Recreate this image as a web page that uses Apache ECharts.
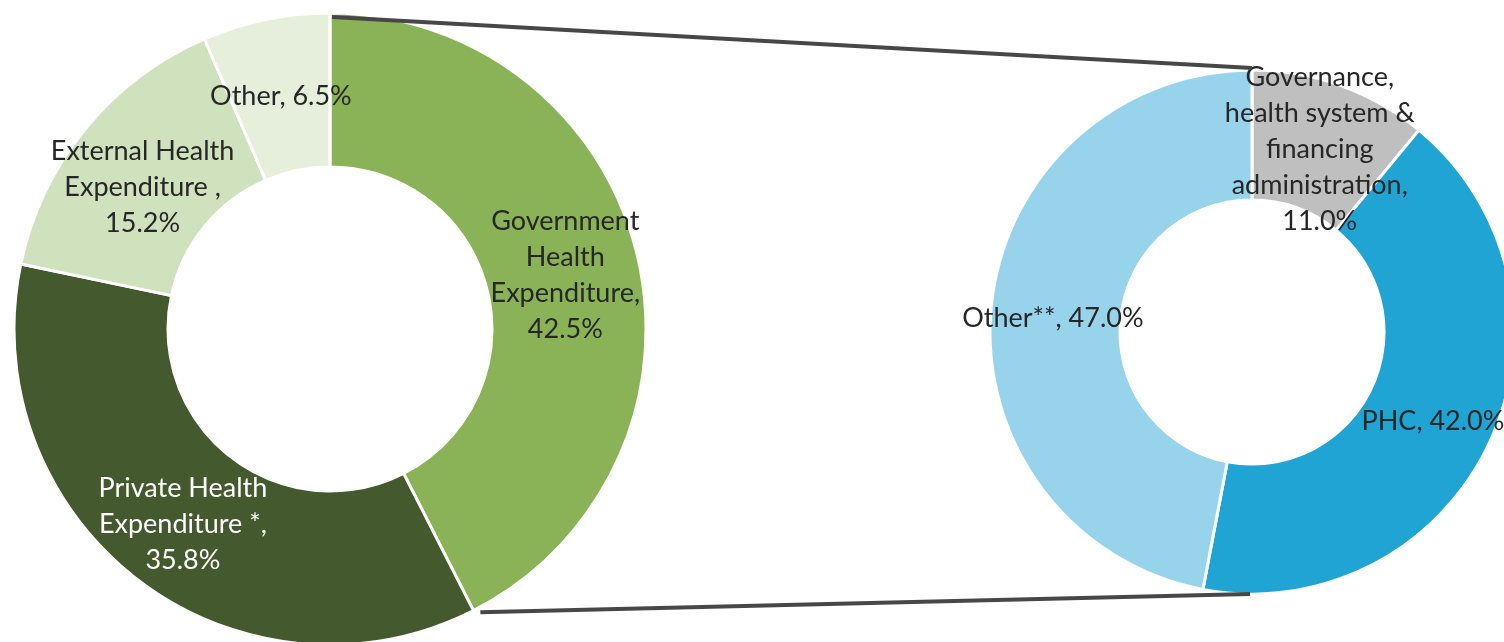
<!DOCTYPE html>
<html>
<head>
<meta charset="utf-8">
<script src="https://cdn.jsdelivr.net/npm/echarts@6/dist/echarts.min.js"></script>
<style>
  html, body { margin: 0; padding: 0; background: #ffffff; }
  #chart { width: 1504px; height: 642px; }
</style>
</head>
<body>
<div id="chart"></div>
<script>
// Health expenditure by source (left ring) and breakdown of one slice (right ring)
const sourceNames = ['Government\nHealth\nExpenditure', 'Private Health\nExpenditure *', 'External Health\nExpenditure ', 'Other'];
const sourceSeps = [',\n', ',\n', ',\n', ', '];
const sourceValues = [42.5, 35.8, 15.2, 6.5];
const sourceColors = ['#8AB357', '#44592D', '#D0E1BE', '#E6EFDC'];
const sourceTextColors = ['#262626', '#ffffff', '#262626', '#262626'];
const sourceLabelShift = [3, 3, 11, 4];

const useNames = ['Governance,\nhealth system &\nfinancing\nadministration', 'PHC', 'Other**'];
const useSeps = [',\n', ', ', ', '];
const useValues = [11.0, 42.0, 47.0];
const useColors = ['#BFBFBF', '#1FA4D4', '#97D4EC'];
const useTextColors = ['#262626', '#262626', '#262626'];
const useLabelShift = [5, 4, 5];

const leftCenter = [330, 329], leftR = [162, 316];
const rightCenter = [1252, 332], rightR = [132, 262];

function buildData(names, values, colors, textColors, shifts) {
  return names.map((n, i) => ({
    name: n,
    value: values[i],
    itemStyle: { color: colors[i] },
    label: { color: textColors[i], offset: [0, shifts[i]] }
  }));
}

function labelFormatter(seps) {
  return p => p.name + seps[p.dataIndex] + p.value.toFixed(1) + '%';
}

const labelStyle = {
  show: true,
  position: 'inside',
  fontSize: 27,
  lineHeight: 36,
  fontFamily: 'Lato, "Open Sans", sans-serif'
};

// Connector lines: top of both rings, and end of the first source slice to bottom of the right ring
const total = sourceValues.reduce((a, b) => a + b, 0);
const endAngle = sourceValues[0] / total * 2 * Math.PI;
const p1 = [leftCenter[0] + 2, leftCenter[1] - leftR[1] + 4];
const p2 = [rightCenter[0], rightCenter[1] - rightR[1] - 2];
const p3 = [leftCenter[0] + (leftR[1] + 2) * Math.sin(endAngle) + 6, leftCenter[1] - (leftR[1] + 2) * Math.cos(endAngle)];
const p4 = [rightCenter[0] - 2, rightCenter[1] + rightR[1]];

const chart = echarts.init(document.getElementById('chart'), null, { renderer: 'canvas' });
chart.setOption({
  animation: false,
  backgroundColor: '#ffffff',
  series: [
    {
      type: 'pie',
      center: leftCenter,
      radius: leftR,
      startAngle: 90,
      clockwise: true,
      avoidLabelOverlap: false,
      itemStyle: { borderColor: '#ffffff', borderWidth: 3 },
      label: Object.assign({ formatter: labelFormatter(sourceSeps) }, labelStyle),
      labelLine: { show: false },
      emphasis: { disabled: true },
      data: buildData(sourceNames, sourceValues, sourceColors, sourceTextColors, sourceLabelShift)
    },
    {
      type: 'pie',
      center: rightCenter,
      radius: rightR,
      startAngle: 90,
      clockwise: true,
      avoidLabelOverlap: false,
      itemStyle: { borderColor: '#ffffff', borderWidth: 3 },
      label: Object.assign({ formatter: labelFormatter(useSeps) }, labelStyle),
      labelLine: { show: false },
      emphasis: { disabled: true },
      data: buildData(useNames, useValues, useColors, useTextColors, useLabelShift)
    }
  ],
  graphic: [
    { type: 'line', z: 100, shape: { x1: p1[0], y1: p1[1], x2: p2[0], y2: p2[1] }, style: { stroke: '#474747', lineWidth: 4 } },
    { type: 'line', z: 100, shape: { x1: p3[0], y1: p3[1], x2: p4[0], y2: p4[1] }, style: { stroke: '#474747', lineWidth: 4 } }
  ]
});
</script>
</body>
</html>
